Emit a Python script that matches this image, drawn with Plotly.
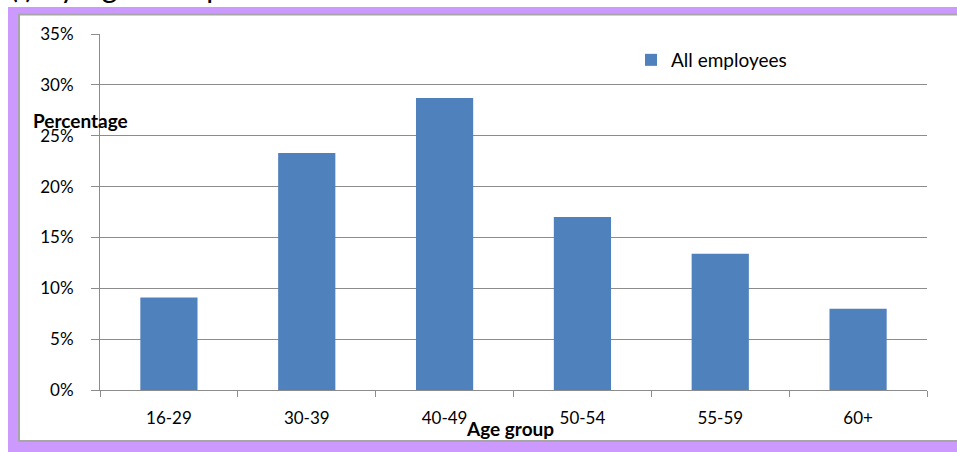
import plotly.graph_objects as go

# Share of employees by age group
age_groups = ["16-29", "30-39", "40-49", "50-54", "55-59", "60+"]
share_pct = [9.1, 23.3, 28.7, 17.0, 13.4, 8.0]
y_ticks = [0, 5, 10, 15, 20, 25, 30, 35]
y_tick_labels = [f"{v}%" for v in y_ticks]

BAR = "#4F81BD"
GRID = "#8C8C8C"
PURPLE = "#CC99FF"
FONT = "Lato, Open Sans, sans-serif"

W, H = 957, 452
L, R, T, B = 100, 30, 34, 62
pw, ph = W - L - R, H - T - B


def px_x(x):
    return (x - L) / pw


def px_y(y):
    return (H - B - y) / ph


fig = go.Figure()
fig.add_trace(go.Bar(
    x=age_groups, y=share_pct, name="All employees",
    marker=dict(color=BAR, line=dict(width=0)),
    showlegend=True,
))

shapes = [
    # purple frame
    dict(type="rect", xref="paper", yref="paper", layer="below",
         x0=px_x(8), x1=px_x(970), y0=px_y(7), y1=px_y(460),
         fillcolor=PURPLE, line=dict(width=0)),
    # white chart panel
    dict(type="rect", xref="paper", yref="paper", layer="below",
         x0=px_x(19), x1=px_x(975), y0=px_y(14.5), y1=px_y(441),
         fillcolor="white", line=dict(color="#A6A6A6", width=2)),
]

annotations = [
    dict(text="(i) By Age Group", xref="paper", yref="paper",
         x=px_x(8), y=px_y(6), xanchor="left", yanchor="bottom",
         showarrow=False, font=dict(family=FONT, size=30, color="black")),
    dict(text="<b>Percentage</b>", xref="paper", yref="paper",
         x=px_x(80), y=px_y(120), xanchor="center", yanchor="middle",
         showarrow=False, font=dict(family=FONT, size=19, color="black")),
    dict(text="<b>Age group</b>", xref="paper", yref="paper",
         x=px_x(510), y=px_y(428), xanchor="center", yanchor="middle",
         showarrow=False, font=dict(family=FONT, size=19, color="black")),
]

fig.update_layout(
    width=W, height=H,
    margin=dict(l=L, r=R, t=T, b=B),
    paper_bgcolor="white", plot_bgcolor="white",
    bargap=0.585,
    font=dict(family=FONT, size=17, color="black"),
    shapes=shapes, annotations=annotations,
    legend=dict(x=px_x(631), y=px_y(41), xanchor="left", yanchor="top",
                bgcolor="rgba(0,0,0,0)", font=dict(size=19, color="black")),
    xaxis=dict(
        type="category", showgrid=False, showline=True, linecolor=GRID,
        linewidth=1, ticks="outside", ticklen=6, tickcolor=GRID,
        tickson="boundaries", ticklabelstandoff=13,
        tickfont=dict(size=17, color="black"), fixedrange=True,
    ),
    yaxis=dict(
        range=[0, 35], tickvals=y_ticks, ticktext=y_tick_labels,
        showgrid=True, gridcolor=GRID, gridwidth=1,
        showline=True, linecolor=GRID, linewidth=1,
        ticks="outside", ticklen=8, tickcolor=GRID,
        ticklabelstandoff=14, zeroline=False,
        tickfont=dict(size=17, color="black"), fixedrange=True,
    ),
)

fig.write_html("out.html")
